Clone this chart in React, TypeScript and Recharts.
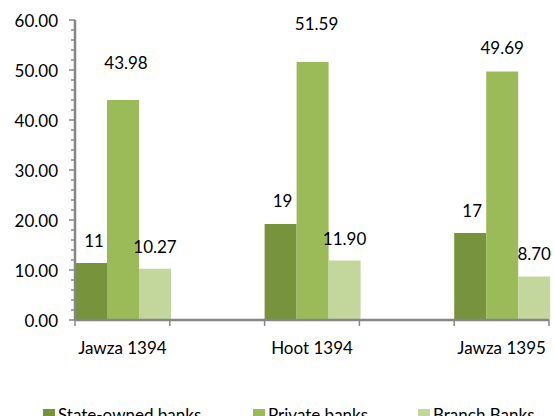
import { BarChart, Bar, XAxis, YAxis, Legend, LabelList } from "recharts";

// blank slots between the periods, as in the source sheet
const periods = ["Jawza 1394", "", "Hoot 1394", "", "Jawza 1395"];
const stateOwned = [11.4, null, 19.2, null, 17.4];
const privateBanks = [43.98, null, 51.59, null, 49.69];
const branchBanks = [10.27, null, 11.9, null, 8.7];
const yTicks = [0, 10, 20, 30, 40, 50, 60];

const data = periods.map((p, i) => ({
  period: p,
  state: stateOwned[i],
  private: privateBanks[i],
  branch: branchBanks[i],
}));

const FONT = "Lato, 'Open Sans', sans-serif";
const AXIS = "#868686";
const Y_W = 75;
const minorTicks = Array.from({ length: 31 }, (_, i) => i * 2);

// labels were moved by hand in the original; pixel lift / nudge per period
const seriesOf: Record<string, (number | null)[]> = {
  state: stateOwned,
  private: privateBanks,
  branch: branchBanks,
};
const lifts: Record<string, number[]> = {
  state: [23, 0, 24, 0, 23],
  private: [38, 0, 39, 0, 24],
  branch: [22, 0, 22, 0, 23],
};
const nudges: Record<string, number[]> = {
  state: [3, 0, 2, 0, 2],
  private: [3, 0, 4, 0, 0],
  branch: [0, 0, 0, 0, 0],
};

const makeLabel = (key: string, digits: number) => (props: any) => {
  const { x, y, width, value } = props;
  if (value == null) return null;
  const i = seriesOf[key].indexOf(value);
  return (
    <text
      x={x + width / 2 + nudges[key][i]}
      y={y - lifts[key][i]}
      textAnchor="middle"
      dominantBaseline="central"
      fontFamily={FONT}
      fontSize={17}
      fill="#000"
    >
      {Number(value).toFixed(digits)}
    </text>
  );
};

const YTick = ({ y, payload }: any) => {
  const major = yTicks.includes(payload.value);
  return (
    <g>
      <line x1={Y_W - (major ? 6 : 4)} x2={Y_W} y1={y} y2={y} stroke={AXIS} strokeWidth={1.5} />
      {major && (
        <text
          x={Y_W - 17}
          y={y}
          textAnchor="end"
          dominantBaseline="central"
          fontFamily={FONT}
          fontSize={17}
          fill="#000"
        >
          {payload.value.toFixed(2)}
        </text>
      )}
    </g>
  );
};

const XTick = ({ x, y, payload, index }: any) => {
  const half = payload.offset || 47.4;
  return (
    <g>
      <line x1={x - half} x2={x - half} y1={y - 8} y2={y - 2} stroke={AXIS} strokeWidth={1.5} />
      {index === periods.length - 1 && (
        <line x1={x + half} x2={x + half} y1={y - 8} y2={y - 2} stroke={AXIS} strokeWidth={1.5} />
      )}
      {payload.value && (
        <text
          x={x}
          y={y + 19}
          textAnchor="middle"
          dominantBaseline="central"
          fontFamily={FONT}
          fontSize={17}
          fill="#000"
        >
          {payload.value}
        </text>
      )}
    </g>
  );
};

const legendItems = [
  { name: "State-owned banks", color: "#77933C", left: 43 },
  { name: "Private banks", color: "#9BBB59", left: 253 },
  { name: "Branch Banks", color: "#C3D69B", left: 418 },
];

const LegendBox = () => (
  <div style={{ position: "relative", height: 22, width: 554, fontFamily: FONT, fontSize: 17 }}>
    {legendItems.map((it) => (
      <div
        key={it.name}
        style={{ position: "absolute", left: it.left, top: 0, display: "flex", alignItems: "center", whiteSpace: "nowrap" }}
      >
        <span style={{ width: 12, height: 12, background: it.color, display: "inline-block", marginRight: 3 }} />
        <span style={{ lineHeight: "22px" }}>{it.name}</span>
      </div>
    ))}
  </div>
);

export default function App() {
  return (
    <div
      style={{
        position: "fixed",
        left: 0,
        top: 0,
        width: 554,
        height: 416,
        overflow: "hidden",
        background: "#fff",
      }}
    >
      <BarChart
        width={554}
        height={434}
        data={data}
        margin={{ top: 20, right: 5, left: 0, bottom: 10 }}
        barCategoryGap={0}
        barGap={0}
      >
        <YAxis
          width={Y_W}
          domain={[0, 60]}
          ticks={minorTicks}
          interval={0}
          tickLine={false}
          axisLine={{ stroke: AXIS, strokeWidth: 2.5 }}
          tick={<YTick />}
        />
        <XAxis
          dataKey="period"
          height={82}
          interval={0}
          tickLine={false}
          axisLine={{ stroke: AXIS, strokeWidth: 2.5 }}
          tick={<XTick />}
        />
        <Legend verticalAlign="bottom" content={<LegendBox />} wrapperStyle={{ left: 0, bottom: 8 }} />
        <Bar dataKey="state" name="State-owned banks" fill="#77933C" isAnimationActive={false}>
          <LabelList dataKey="state" content={makeLabel("state", 0)} />
        </Bar>
        <Bar dataKey="private" name="Private banks" fill="#9BBB59" isAnimationActive={false}>
          <LabelList dataKey="private" content={makeLabel("private", 2)} />
        </Bar>
        <Bar dataKey="branch" name="Branch Banks" fill="#C3D69B" isAnimationActive={false}>
          <LabelList dataKey="branch" content={makeLabel("branch", 2)} />
        </Bar>
      </BarChart>
    </div>
  );
}
